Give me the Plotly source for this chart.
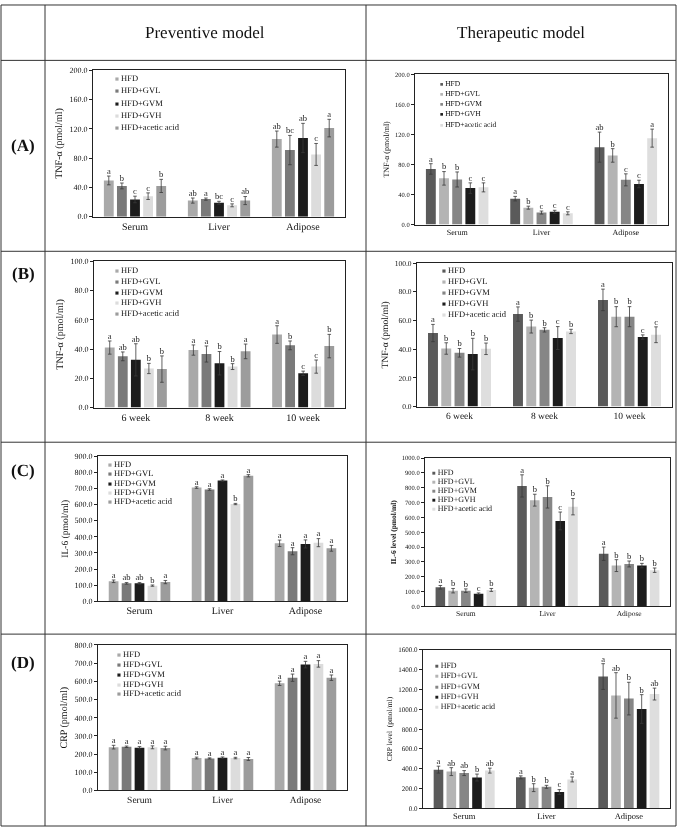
import plotly.graph_objects as go

W, H = 677, 832
FONT = "Liberation Serif"

series = ["HFD", "HFD+GVL", "HFD+GVM", "HFD+GVH", "HFD+acetic acid"]
tissues = ["Serum", "Liver", "Adipose"]
weeks = ["6 week", "8 week", "10 week"]

prev_colors = ["#a9a9a9", "#7a7a7a", "#1c1c1c", "#dcdcdc", "#9c9c9c"]
ther_colors = ["#5a5a5a", "#b4b4b4", "#868686", "#1c1c1c", "#dedede"]

# ---- (A) TNF-a in tissues ----
prevA_vals = [[49.5, 22, 106], [42, 24, 91], [23.5, 19, 107.5], [28, 15.5, 85], [42, 22, 121]]
prevA_errs = [[6, 3.5, 11], [4, 1.5, 20], [4.5, 2, 20], [4.5, 2, 15], [9, 5.5, 12]]
prevA_lets = [["a", "ab", "ab"], ["b", "a", "bc"], ["c", "bc", "ab"], ["c", "c", "c"], ["b", "ab", "a"]]

therA_vals = [[74, 34.5, 103], [61.5, 22.5, 92], [60, 16, 59.5], [48.5, 17, 54], [49.5, 15, 115]]
therA_errs = [[7, 3, 20], [9, 2, 9], [10, 2, 8], [7, 2, 5], [6, 2, 12]]
therA_lets = [["a", "a", "ab"], ["b", "b", "b"], ["b", "c", "c"], ["c", "c", "c"], ["c", "c", "a"]]

# ---- (B) serum TNF-a over weeks ----
prevB_vals = [[41, 39.3, 49.9], [35, 36.6, 42.5], [32.6, 30.3, 23.4], [26.7, 28, 28], [26.3, 38.4, 42]]
prevB_errs = [[4.5, 3.5, 6], [3, 5.5, 3], [11, 8, 1.5], [3.5, 2, 4.5], [9, 5, 8]]
prevB_lets = [["a", "a", "a"], ["ab", "a", "b"], ["ab", "b", "c"], ["b", "b", "c"], ["b", "a", "b"]]

therB_vals = [[51.3, 64.5, 74.4], [40.5, 55.8, 62.7], [37.5, 53.5, 62.7], [36.6, 47.8, 48.5], [40.3, 52.4, 50.1]]
therB_errs = [[6, 5, 7.5], [4, 4.5, 7], [3, 1.5, 7], [11, 8, 1.5], [4, 1.5, 5.5]]
therB_lets = [["a", "a", "a"], ["b", "b", "b"], ["b", "b", "b"], ["b", "c", "c"], ["b", "b", "c"]]

# ---- (C) IL-6 ----
prevC_vals = [[125, 705, 360], [112, 693, 311], [112, 748, 356], [98, 603, 364], [120, 778, 329]]
prevC_errs = [[8, 5, 20], [5, 5, 22], [5, 4, 25], [4, 4, 25], [10, 7, 18]]
prevC_lets = [["a", "a", "a"], ["ab", "a", "a"], ["ab", "a", "a"], ["b", "b", "a"], ["a", "a", "a"]]

therC_vals = [[129, 812, 355], [106, 716, 275], [106, 738, 286], [86, 576, 275], [111, 672, 244]]
therC_errs = [[12, 75, 45], [15, 40, 40], [12, 75, 20], [5, 60, 15], [10, 55, 15]]
therC_lets = [["a", "a", "a"], ["b", "b", "b"], ["b", "b", "b"], ["c", "c", "b"], ["b", "b", "b"]]

# ---- (D) CRP ----
prevD_vals = [[238, 178, 589], [240, 176, 620], [235, 180, 692], [237, 178, 696], [233, 173, 620]]
prevD_errs = [[10, 5, 12], [4, 3, 20], [6, 4, 18], [8, 4, 18], [10, 8, 15]]
prevD_lets = [["a", "a", "a"]] * 5

therD_vals = [[390, 312, 1331], [370, 208, 1140], [355, 216, 1108], [310, 163, 1003], [380, 291, 1154]]
therD_errs = [[35, 15, 130], [40, 40, 230], [25, 15, 165], [35, 25, 145], [25, 25, 60]]
therD_lets = [["a", "a", "a"], ["ab", "b", "ab"], ["ab", "b", "b"], ["b", "c", "b"], ["ab", "a", "ab"]]

ytitles = ["TNF-α (pmol/ml)", "TNF-α (pmol/ml)", "TNF-α (pmol/ml)", "TNF-α (pmol/ml)",
           "IL-6 (pmol/ml)", "<b>IL-6 level (pmol/ml)</b>", "CRP (pmol/ml)", "CRP level  (pmol/ml)"]


def fx(px):
    return px / W


def fy(py):
    return 1 - py / H


# layout / style per panel (pixel boxes, fonts)
panels = [
    dict(cats=tissues, vals=prevA_vals, errs=prevA_errs, lets=prevA_lets, colors=prev_colors,
         yr=200, dt=40, box=(93, 67, 345, 215), tf=8, ttf=10, xf=10, lf=8.5, leg=(113, 75, 12.3)),
    dict(cats=tissues, vals=therA_vals, errs=therA_errs, lets=therA_lets, colors=ther_colors,
         yr=200, dt=40, box=(415, 71, 668, 223), tf=6.5, ttf=8, xf=8, lf=7.5, leg=(438, 80, 10.4)),
    dict(cats=weeks, vals=prevB_vals, errs=prevB_errs, lets=prevB_lets, colors=prev_colors,
         yr=100, dt=20, box=(94, 260, 345, 408), tf=8, ttf=10, xf=10, lf=8.5, leg=(113, 269, 10.9)),
    dict(cats=weeks, vals=therB_vals, errs=therB_errs, lets=therB_lets, colors=ther_colors,
         yr=100, dt=20, box=(417, 262, 672, 407), tf=7.5, ttf=9.5, xf=9.5, lf=8.5, leg=(440, 269, 11.2)),
    dict(cats=tissues, vals=prevC_vals, errs=prevC_errs, lets=prevC_lets, colors=prev_colors,
         yr=900, dt=100, box=(98, 457, 347, 604), tf=8, ttf=9.5, xf=10, lf=8.5, leg=(106, 465, 9.4)),
    dict(cats=tissues, vals=therC_vals, errs=therC_errs, lets=therC_lets, colors=ther_colors,
         yr=1000, dt=100, box=(425, 459, 670, 609), tf=6.5, ttf=7.5, xf=7.5, lf=8, leg=(430, 474, 9.0)),
    dict(cats=tissues, vals=prevD_vals, errs=prevD_errs, lets=prevD_lets, colors=prev_colors,
         yr=800, dt=100, box=(98, 648, 347, 795), tf=8, ttf=10, xf=9.5, lf=8.5, leg=(115, 657, 10.0)),
    dict(cats=tissues, vals=therD_vals, errs=therD_errs, lets=therD_lets, colors=ther_colors,
         yr=1600, dt=200, box=(423, 653, 670, 813), tf=7, ttf=7.5, xf=8.5, lf=8, leg=(433, 669, 10.3)),
]

fig = go.Figure()
layout = {}
annotations = []

for k, p in enumerate(panels, start=1):
    xa = "x" if k == 1 else f"x{k}"
    ya = "y" if k == 1 else f"y{k}"
    for j, name in enumerate(series):
        fig.add_trace(go.Bar(
            x=p["cats"], y=p["vals"][j], name=name, xaxis=xa, yaxis=ya,
            marker=dict(color=p["colors"][j], line=dict(width=0)),
            error_y=dict(type="data", array=p["errs"][j], color="#3a3a3a", thickness=0.8, width=1.8),
            showlegend=False, hoverinfo="skip",
        ))
    for j, name in enumerate(series):
        tops = [v + e for v, e in zip(p["vals"][j], p["errs"][j])]
        fig.add_trace(go.Scatter(
            x=p["cats"], y=tops, mode="text", text=p["lets"][j], textposition="top center",
            textfont=dict(family=FONT, size=8.5, color="#1a1a1a"), xaxis=xa, yaxis=ya,
            showlegend=False, hoverinfo="skip", cliponaxis=False,
        ))
    x0, y0, x1, y1 = p["box"]
    layout[f"xaxis{k if k > 1 else ''}"] = dict(
        domain=[fx(x0), fx(x1)], anchor=ya, showline=True, mirror=True, linecolor="#222",
        linewidth=1, ticks="", showgrid=False, zeroline=False,
        tickfont=dict(family=FONT, size=p["xf"], color="#111"),
    )
    layout[f"yaxis{k if k > 1 else ''}"] = dict(
        domain=[fy(y1), fy(y0)], anchor=xa, range=[0, p["yr"]], dtick=p["dt"], tickformat=".1f",
        showline=True, mirror=True, linecolor="#222", linewidth=1, ticks="outside", ticklen=3,
        tickcolor="#222", showgrid=False, zeroline=False,
        tickfont=dict(family=FONT, size=p["tf"], color="#111"),
        title=dict(text=ytitles[k - 1], font=dict(family=FONT, size=p["ttf"], color="#111"), standoff=4),
    )
    lx, ly, sp = p["leg"]
    for j, name in enumerate(series):
        annotations.append(dict(
            x=fx(lx), y=fy(ly + j * sp), xref="paper", yref="paper", xanchor="left", yanchor="middle",
            showarrow=False,
            text=f'<span style="color:{p["colors"][j]};font-size:{p["lf"] - 2}px">■</span> {name}',
            font=dict(family=FONT, size=p["lf"], color="#111"),
        ))

# table frame
line_col = "#333"
shapes = [
    dict(type="rect", xref="paper", yref="paper", x0=fx(1), x1=fx(676), y0=fy(831), y1=fy(1),
         line=dict(color=line_col, width=1)),
    dict(type="line", xref="paper", yref="paper", x0=fx(45), x1=fx(45), y0=fy(831), y1=fy(1),
         line=dict(color=line_col, width=1)),
    dict(type="line", xref="paper", yref="paper", x0=fx(366), x1=fx(366), y0=fy(831), y1=fy(1),
         line=dict(color=line_col, width=1)),
]
for yy in [57, 250, 443, 637]:
    shapes.append(dict(type="line", xref="paper", yref="paper", x0=fx(1), x1=fx(676), y0=fy(yy), y1=fy(yy),
                       line=dict(color=line_col, width=1)))

headers = [("Preventive model", 205, 29), ("Therapeutic model", 521, 29)]
for txt, hx, hy in headers:
    annotations.append(dict(x=fx(hx), y=fy(hy), xref="paper", yref="paper", showarrow=False,
                            xanchor="center", yanchor="middle",
                            text=txt, font=dict(family=FONT, size=17, color="#111")))
row_labels = [("(A)", 143), ("(B)", 272), ("(C)", 472), ("(D)", 666)]
for txt, ry in row_labels:
    annotations.append(dict(x=fx(23), y=fy(ry), xref="paper", yref="paper", showarrow=False,
                            xanchor="center", yanchor="middle",
                            text=f"<b>{txt}</b>", font=dict(family=FONT, size=17, color="#111")))

fig.update_layout(
    width=W, height=H, margin=dict(l=0, r=0, t=0, b=0),
    paper_bgcolor="white", plot_bgcolor="white",
    barmode="group", bargap=0.22, bargroupgap=0.25, scattermode="group",
    font=dict(family=FONT, color="#111"),
    annotations=annotations, shapes=shapes, showlegend=False,
    **layout,
)

fig.write_html(
    "out.html", config={"displayModeBar": False},
    post_script=(
        "document.body.style.margin='0';document.body.style.overflow='hidden';"
        "var s=document.createElement('style');"
        "s.textContent='.main-svg text{-webkit-font-smoothing:antialiased;text-rendering:geometricPrecision;}"
        ".plotly-graph-div{will-change:transform;}';"
        "document.head.appendChild(s);"
    ),
)
